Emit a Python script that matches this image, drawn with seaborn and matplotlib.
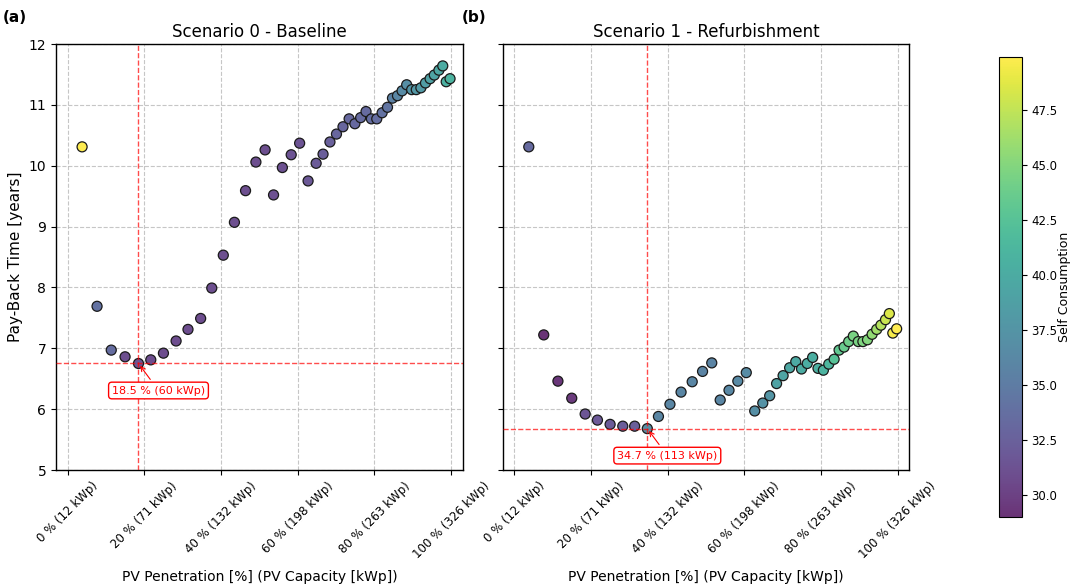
import numpy as np
import pandas as pd
import matplotlib
matplotlib.use("Agg")
import matplotlib.pyplot as plt
import seaborn as sns
from matplotlib.colors import Normalize, ListedColormap
from matplotlib.cm import ScalarMappable

# ---------------- data ----------------
pv_penetration = [3.8, 7.7, 11.4, 15.0, 18.5, 21.7, 25.0, 28.3, 31.4, 34.7,
                  37.6, 40.6, 43.5, 46.4, 49.1, 51.5, 53.7, 56.0, 58.3, 60.5,
                  62.7, 64.8, 66.6, 68.4, 70.1, 71.8, 73.4, 74.9, 76.4, 77.8,
                  79.2, 80.6, 82.0, 83.4, 84.7, 86.0, 87.2, 88.4, 89.7, 90.9,
                  92.1, 93.3, 94.5, 95.6, 96.8, 97.8, 98.7, 99.7]

payback_s0 = [10.31, 7.69, 6.97, 6.86, 6.75, 6.81, 6.92, 7.12, 7.31, 7.49,
              7.99, 8.53, 9.07, 9.59, 10.06, 10.26, 9.52, 9.97, 10.18, 10.37,
              9.75, 10.04, 10.19, 10.39, 10.52, 10.64, 10.77, 10.69, 10.79, 10.89,
              10.77, 10.77, 10.87, 10.96, 11.11, 11.15, 11.23, 11.33, 11.25, 11.25,
              11.28, 11.36, 11.43, 11.49, 11.57, 11.64, 11.38, 11.43]

payback_s1 = [10.31, 7.22, 6.46, 6.18, 5.92, 5.82, 5.75, 5.72, 5.72, 5.68,
              5.88, 6.08, 6.28, 6.45, 6.62, 6.76, 6.15, 6.31, 6.46, 6.60,
              5.97, 6.10, 6.22, 6.42, 6.55, 6.68, 6.78, 6.66, 6.75, 6.85,
              6.67, 6.64, 6.74, 6.82, 6.97, 7.02, 7.11, 7.20, 7.11, 7.11,
              7.14, 7.23, 7.31, 7.38, 7.47, 7.57, 7.25, 7.32]

selfcons_s0 = [49.9, 34.0, 33.5, 31.0, 31.5, 30.8, 30.8, 30.8, 30.8, 30.8,
               31.0, 31.0, 31.0, 31.0, 31.0, 31.0, 31.2, 31.2, 31.3, 31.3,
               31.8, 32.0, 32.2, 32.5, 33.0, 33.0, 33.2, 33.2, 33.4, 33.4,
               33.6, 33.6, 34.0, 34.3, 35.5, 36.0, 36.5, 37.0, 37.5, 37.8,
               38.0, 38.4, 38.8, 39.2, 39.6, 40.0, 40.5, 40.8]

selfcons_s1 = [33.3, 29.0, 29.3, 29.5, 31.5, 31.8, 32.0, 32.2, 32.3, 37.0,
               36.0, 36.0, 36.0, 36.0, 35.8, 35.8, 36.0, 36.2, 36.4, 36.6,
               37.0, 37.2, 37.5, 39.0, 39.3, 39.6, 39.8, 40.0, 40.2, 40.3,
               40.5, 40.8, 41.2, 42.5, 43.2, 43.6, 44.0, 44.5, 44.5, 44.8,
               45.0, 45.6, 46.3, 47.0, 47.8, 48.5, 49.5, 49.9]

tick_pct = [0, 20, 40, 60, 80, 100]
tick_labels = ["0 % (12 kWp)", "20 % (71 kWp)", "40 % (132 kWp)",
               "60 % (198 kWp)", "80 % (263 kWp)", "100 % (326 kWp)"]
pv_capacity_max_kwp = 326
titles = ["Scenario 0 - Baseline", "Scenario 1 - Refurbishment"]
panel_tags = ["(a)", "(b)"]

# ---------------- style ----------------
W, H = 1070, 586
fig = plt.figure(figsize=(W / 100, H / 100), dpi=100)
plt.rcParams["font.family"] = ["DejaVu Sans"]

def frac(x0, y0, x1, y1):
    return [x0 / W, 1 - y1 / H, (x1 - x0) / W, (y1 - y0) / H]

ax1 = fig.add_axes(frac(56, 44, 462.7, 470))
ax2 = fig.add_axes(frac(502.7, 44, 909.3, 470), sharey=ax1)
cax = fig.add_axes(frac(999, 56.7, 1021.7, 516.7))

base = plt.get_cmap("viridis")(np.linspace(0, 1, 256))[:, :3]
blend = 0.8 * base + 0.2 * np.ones_like(base)
cmap = ListedColormap(blend)
all_c = selfcons_s0 + selfcons_s1
norm = Normalize(vmin=min(all_c), vmax=max(all_c))

for ax, yv, cv, title in [(ax1, payback_s0, selfcons_s0, titles[0]),
                          (ax2, payback_s1, selfcons_s1, titles[1])]:
    df = pd.DataFrame({"pen": pv_penetration, "pbt": yv, "sc": cv})
    ax.set_axisbelow(True)
    ax.grid(True, linestyle="--", color="#b8b8b8", linewidth=0.8, alpha=0.8)
    sns.scatterplot(data=df, x="pen", y="pbt", hue="sc", palette=cmap,
                    hue_norm=norm, s=52, edgecolor="#1a1a1a", linewidth=0.9,
                    legend=False, ax=ax, zorder=3)
    i = int(np.argmin(yv))
    xm, ym = pv_penetration[i], yv[i]
    ax.axvline(xm, color="red", linestyle="--", linewidth=1, alpha=0.7, zorder=4)
    ax.axhline(ym, color="red", linestyle="--", linewidth=1, alpha=0.7, zorder=4)
    ax.annotate(f"{xm:.1f} % ({xm * pv_capacity_max_kwp / 100:.0f} kWp)",
                xy=(xm, ym), xytext=(20, -27), textcoords="offset pixels",
                ha="center", va="center", fontsize=8, color="red", zorder=5,
                bbox=dict(boxstyle="round,pad=0.3", fc="white", ec="red", lw=1),
                arrowprops=dict(arrowstyle="->", color="red", lw=0.8))
    ax.set_xlim(-3, 103)
    ax.set_ylim(5, 12)
    ax.set_xticks(tick_pct)
    ax.set_xticklabels(tick_labels, rotation=45, fontsize=8.5)
    ax.set_title(title, fontsize=12, pad=5)
    ax.set_xlabel("PV Penetration [%] (PV Capacity [kWp])", fontsize=10, labelpad=6)
    ax.tick_params(axis="y", labelsize=10)
    for sp in ax.spines.values():
        sp.set_color("black")
        sp.set_linewidth(1)

ax1.set_ylabel("Pay-Back Time [years]", fontsize=11)
ax2.set_ylabel("")
ax2.tick_params(axis="y", labelleft=False)

cb = fig.colorbar(ScalarMappable(norm=norm, cmap=cmap), cax=cax)
cb.set_ticks([30.0, 32.5, 35.0, 37.5, 40.0, 42.5, 45.0, 47.5])
cb.ax.tick_params(labelsize=8.5)
cb.set_label("Self Consumption", fontsize=9, labelpad=0)

fig.text(3 / W, 1 - 17 / H, panel_tags[0], fontsize=11, fontweight="bold", va="center")
fig.text(462 / W, 1 - 17 / H, panel_tags[1], fontsize=11, fontweight="bold", va="center")

fig.savefig("out.png", dpi=100)
